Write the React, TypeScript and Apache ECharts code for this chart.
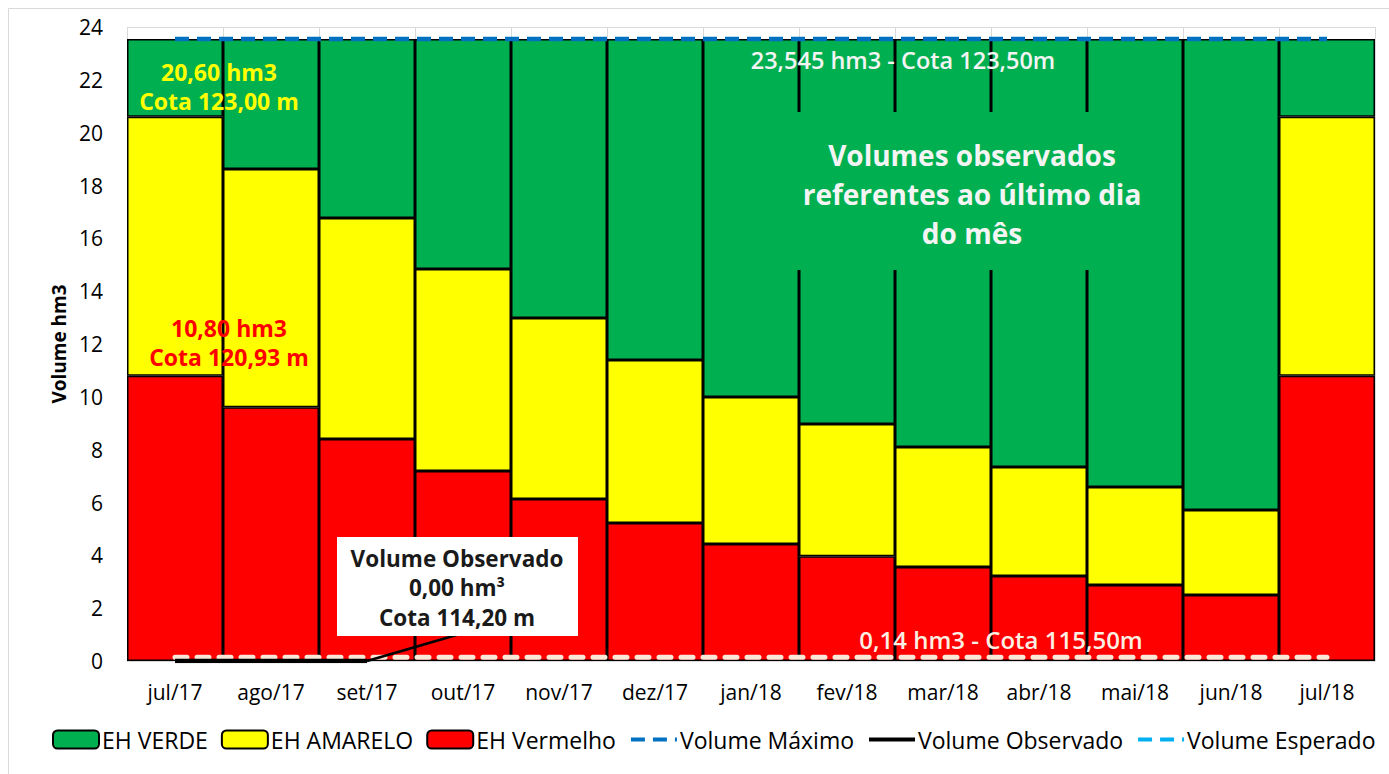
import React, { useEffect, useRef } from "react";
import * as echarts from "echarts";

const categories = ["jul/17", "ago/17", "set/17", "out/17", "nov/17", "dez/17", "jan/18", "fev/18", "mar/18", "abr/18", "mai/18", "jun/18", "jul/18"];
// top of red zone (hm3)
const redTop = [10.8, 9.61, 8.4, 7.19, 6.13, 5.22, 4.43, 3.97, 3.56, 3.22, 2.88, 2.5, 10.8];
// top of yellow zone (hm3)
const yellowTop = [20.6, 18.62, 16.77, 14.84, 12.98, 11.39, 9.99, 8.97, 8.1, 7.34, 6.59, 5.72, 20.6];
const maxVolume = [23.545, 23.545, 23.545, 23.545, 23.545, 23.545, 23.545, 23.545, 23.545, 23.545, 23.545, 23.545, 23.545];
const minVolume = [0.14, 0.14, 0.14, 0.14, 0.14, 0.14, 0.14, 0.14, 0.14, 0.14, 0.14, 0.14, 0.14];
const observed = [0, 0, 0, null, null, null, null, null, null, null, null, null, null];
const expected: (number | null)[] = [];
const yTicks = { min: 0, max: 24, interval: 2 };

const FONT = "'Open Sans', 'Noto Sans', sans-serif";

export default function App() {
  const ref = useRef<HTMLDivElement>(null);
  useEffect(() => {
    if (!ref.current) return;
    const chart = echarts.init(ref.current, undefined, { renderer: "svg" });
    const redVals = redTop;
    const yellowVals = yellowTop.map((v, i) => +(v - redTop[i]).toFixed(3));
    const greenVals = yellowTop.map((v, i) => +(maxVolume[i] - v).toFixed(3));
    const barBase = { type: "bar", stack: "zona", barCategoryGap: "0%", itemStyle: { borderColor: "#000", borderWidth: 1.5 } };
    const noSym = { itemStyle: { opacity: 0 }, lineStyle: { width: 4 } };
    chart.setOption({
      animation: false,
      textStyle: { fontFamily: FONT },
      grid: { left: 127, right: 14, top: 27, bottom: 113 },
      legend: {
        left: 52,
        top: 728,
        width: 1345,
        padding: 0,
        itemWidth: 46,
        itemHeight: 18,
        itemGap: 13,
        data: [
          "EH VERDE",
          "EH AMARELO",
          "EH Vermelho",
          { name: "Volume Máximo", ...noSym },
          { name: "Volume Observado", ...noSym },
          { name: "Volume Esperado", ...noSym },
        ],
        textStyle: { fontSize: 23, color: "#000", fontFamily: FONT, padding: [0, 0, 0, -2] },
      },
      xAxis: {
        type: "category",
        data: categories,
        axisLine: { show: true, lineStyle: { color: "#D9D9D9" } },
        axisTick: { show: false },
        axisLabel: { fontSize: 21, color: "#000", margin: 20, fontFamily: FONT },
        splitLine: { show: true, lineStyle: { color: "#D9D9D9" } },
      },
      yAxis: {
        type: "value",
        min: yTicks.min,
        max: yTicks.max,
        interval: yTicks.interval,
        name: "Volume hm3",
        nameLocation: "middle",
        nameGap: 58,
        nameRotate: 90,
        nameTextStyle: { fontSize: 19, fontWeight: "bold", color: "#000", fontFamily: FONT },
        axisLine: { show: false },
        axisTick: { show: false },
        axisLabel: { fontSize: 21, color: "#000", margin: 24, fontFamily: FONT },
        splitLine: { show: true, lineStyle: { color: "#D9D9D9" } },
      },
      series: [
        { ...barBase, name: "EH Vermelho", data: redVals, itemStyle: { ...barBase.itemStyle, color: "#FF0000" } },
        { ...barBase, name: "EH AMARELO", data: yellowVals, itemStyle: { ...barBase.itemStyle, color: "#FFFF00" } },
        { ...barBase, name: "EH VERDE", data: greenVals, itemStyle: { ...barBase.itemStyle, color: "#00B050" } },
        {
          type: "line", name: "Volume Máximo", data: maxVolume, symbol: "none", z: 5,
          itemStyle: { color: "#0070C0" },
          lineStyle: { color: "#0070C0", width: 4.5, type: [14, 8] },
        },
        {
          type: "line", name: "Volume Mínimo", data: minVolume, symbol: "none", z: 5,
          itemStyle: { color: "#FCE8D8" },
          lineStyle: { color: "#FCE8D8", width: 5, type: [12, 10], cap: "round" },
        },
        {
          type: "line", name: "Volume Observado", data: observed, symbol: "none", z: 6,
          itemStyle: { color: "#000" },
          lineStyle: { color: "#000", width: 4.5 },
        },
        {
          type: "line", name: "Volume Esperado", data: expected, symbol: "none", z: 6,
          itemStyle: { color: "#00B0F0" },
          lineStyle: { color: "#00B0F0", width: 4, type: [14, 8] },
        },
      ],
    });

    const p0 = chart.convertToPixel({ gridIndex: 0 }, [categories[2], 0]) as number[];
    const t = (x: number, y: number, text: string, fill: string, font: string) => ({
      type: "text", z: 101, x, y, style: { text, fill, font, align: "center", verticalAlign: "middle" },
    });
    chart.setOption({
      graphic: [
        { type: "rect", z: 100, shape: { x: 8.5, y: 8.5, width: 1400, height: 800 }, style: { fill: "none", stroke: "#D9D9D9", lineWidth: 1 } },
        { type: "rect", z: 100, shape: { x: 760, y: 112, width: 380, height: 158 }, style: { fill: "#00B050" } },
        { type: "line", z: 100, shape: { x1: p0[0], y1: p0[1], x2: 460, y2: 634 }, style: { stroke: "#000", lineWidth: 2.5 } },
        { type: "rect", z: 100, shape: { x: 337, y: 537, width: 241, height: 99 }, style: { fill: "#fff" } },
        t(457, 558, "Volume Observado", "#1a1a1a", `bold 22.5px ${FONT}`),
        t(457, 587, "0,00 hm³", "#1a1a1a", `bold 22.5px ${FONT}`),
        t(457, 617, "Cota 114,20 m", "#1a1a1a", `bold 22.5px ${FONT}`),
        t(219, 72, "20,60 hm3", "#FFFF00", `bold 23px ${FONT}`),
        t(219, 101, "Cota 123,00 m", "#FFFF00", `bold 23px ${FONT}`),
        t(229, 328, "10,80 hm3", "#FF0000", `bold 23px ${FONT}`),
        t(229, 357, "Cota 120,93 m", "#FF0000", `bold 23px ${FONT}`),
        t(903, 60, "23,545 hm3 - Cota 123,50m", "#F4F4F4", `600 23.5px ${FONT}`),
        t(972, 155, "Volumes observados", "#F4F4F4", `bold 28px ${FONT}`),
        t(972, 194, "referentes ao último dia", "#F4F4F4", `bold 28px ${FONT}`),
        t(972, 233, "do mês", "#F4F4F4", `bold 28px ${FONT}`),
        t(1001, 639, "0,14 hm3 - Cota 115,50m", "#FCEFE4", `600 24px ${FONT}`),
      ],
    });
    return () => chart.dispose();
  }, []);
  return <div ref={ref} style={{ position: "absolute", left: 0, top: 0, width: 1389, height: 774, background: "#fff" }} />;
}
